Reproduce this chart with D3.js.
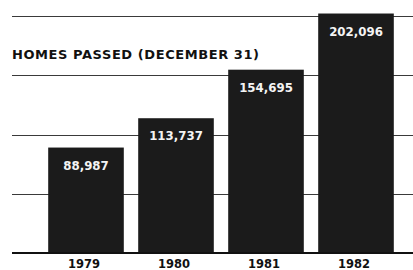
<!DOCTYPE html>
<html>
<head>
<meta charset="utf-8">
<script src="https://cdn.jsdelivr.net/npm/d3@7"></script>
<style>
  html, body { margin: 0; padding: 0; background: #ffffff; }
  svg { display: block; }
  text { font-family: "DejaVu Sans", "Liberation Sans", Arial, sans-serif; font-weight: bold; }
</style>
</head>
<body>
<svg id="chart" width="413" height="270"></svg>
<script>
const years = ["1979", "1980", "1981", "1982"];
const homesPassed = [88987, 113737, 154695, 202096];
const gridTicks = [0, 50000, 100000, 150000, 200000];
const titleText = "HOMES PASSED (DECEMBER 31)";

const svg = d3.select("#chart");
const W = 413, H = 270;

const x = d3.scaleBand().domain(years).range([41, 401]).paddingInner(0.16).paddingOuter(0.08);
const y = d3.scaleLinear().domain([0, 200000]).range([253, 16]);
const fmt = d3.format(",");

svg.append("rect").attr("width", W).attr("height", H).attr("fill", "#ffffff");

// grid lines
svg.append("g").selectAll("line").data(gridTicks.filter(d => d !== 0)).join("line")
  .attr("x1", 12).attr("x2", W)
  .attr("y1", d => Math.round(y(d)) + 0.5).attr("y2", d => Math.round(y(d)) + 0.5)
  .attr("stroke", "#3a3a3a").attr("stroke-width", 1.1);

// bars
svg.append("g").selectAll("rect").data(homesPassed).join("rect")
  .attr("x", (d, i) => x(years[i]))
  .attr("width", x.bandwidth())
  .attr("y", d => y(d))
  .attr("height", d => y(0) - y(d))
  .attr("fill", "#1b1b1b");

// baseline
svg.append("line")
  .attr("x1", 12).attr("x2", W)
  .attr("y1", y(0)).attr("y2", y(0))
  .attr("stroke", "#111").attr("stroke-width", 2);

// value labels
svg.append("g").selectAll("text").data(homesPassed).join("text")
  .attr("x", (d, i) => x(years[i]) + x.bandwidth() / 2)
  .attr("y", d => y(d) + 22)
  .attr("text-anchor", "middle")
  .attr("fill", "#f4f4f4")
  .attr("font-size", 11.8)
  .text(d => fmt(d));

// year labels
svg.append("g").selectAll("text").data(years).join("text")
  .attr("x", d => x(d) + x.bandwidth() / 2 - 2)
  .attr("y", 268)
  .attr("text-anchor", "middle")
  .attr("fill", "#111")
  .attr("font-size", 11.5)
  .text(d => d);

// title
svg.append("text")
  .attr("x", 12).attr("y", 59)
  .attr("fill", "#111")
  .attr("font-size", 13)
  .attr("textLength", 247)
  .attr("lengthAdjust", "spacing")
  .text(titleText);
</script>
</body>
</html>
